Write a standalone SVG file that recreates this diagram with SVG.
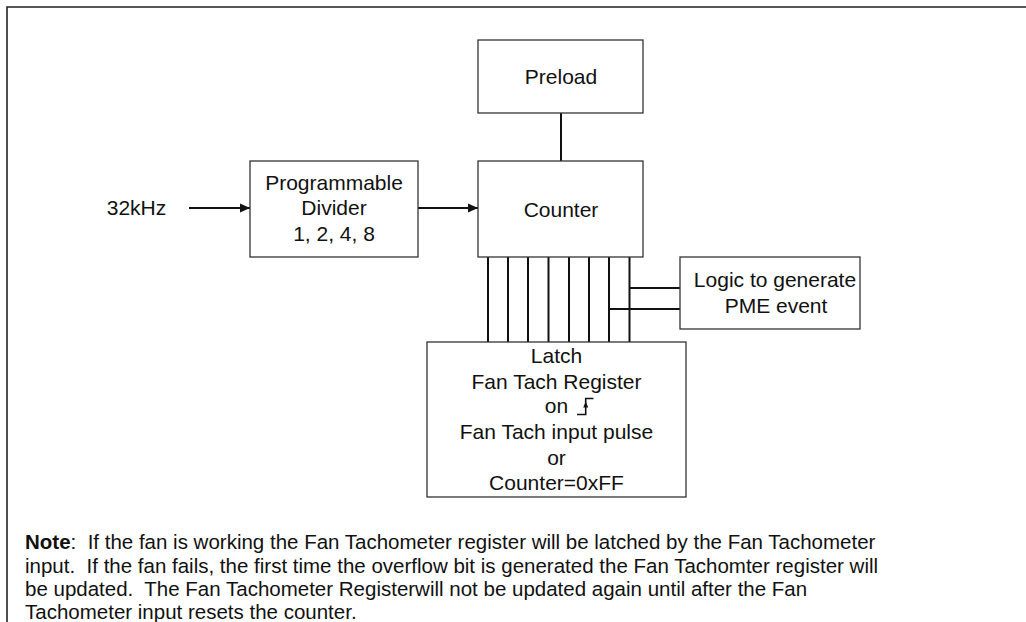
<svg xmlns="http://www.w3.org/2000/svg" width="1026" height="622" viewBox="0 0 1026 622">
<style>
  .box { fill: #ffffff; stroke: #333333; stroke-width: 1.3; }
  .t { font-family: "Liberation Sans", Arial, sans-serif; font-size: 21px; fill: #111111; text-anchor: middle; }
  .note { font-family: "Liberation Sans", Arial, sans-serif; font-size: 20.5px; fill: #111111; white-space: pre; }
  .wire { stroke: #111111; stroke-width: 2; fill: none; }
  .frame { stroke: #222222; stroke-width: 1.6; fill: none; }
</style>
<defs>
  <marker id="arr" markerWidth="12" markerHeight="12" refX="10" refY="6" orient="auto" markerUnits="userSpaceOnUse">
    <path d="M0,1.5 L10,6 L0,10.5 Z" fill="#111111"/>
  </marker>
</defs>
<rect width="1026" height="622" fill="#ffffff"/>
<path class="frame" d="M7,622 L7,7 L1026,7"/>

<g id="connectors">
  <line class="wire" x1="189" y1="208" x2="250" y2="208" marker-end="url(#arr)"/>
  <line class="wire" x1="418" y1="208" x2="478" y2="208" marker-end="url(#arr)"/>
  <line class="wire" x1="561" y1="113" x2="561" y2="161"/>
  <line class="wire" x1="488" y1="257" x2="488" y2="342"/>
  <line class="wire" x1="508" y1="257" x2="508" y2="342"/>
  <line class="wire" x1="528" y1="257" x2="528" y2="342"/>
  <line class="wire" x1="548.5" y1="257" x2="548.5" y2="342"/>
  <line class="wire" x1="569" y1="257" x2="569" y2="342"/>
  <line class="wire" x1="589" y1="257" x2="589" y2="342"/>
  <line class="wire" x1="609" y1="257" x2="609" y2="342"/>
  <line class="wire" x1="629.5" y1="257" x2="629.5" y2="342"/>
  <line class="wire" x1="629.5" y1="288" x2="680" y2="288"/>
  <line class="wire" x1="609" y1="309" x2="680" y2="309"/>
</g>

<g id="preload">
  <rect class="box" x="478" y="40" width="165" height="73"/>
  <text class="t" x="561" y="84">Preload</text>
</g>

<g id="input-label">
  <text class="t" x="136.5" y="215">32kHz</text>
</g>

<g id="divider">
  <rect class="box" x="250" y="161" width="168" height="96"/>
  <text class="t" x="334" y="190">Programmable</text>
  <text class="t" x="334" y="215">Divider</text>
  <text class="t" x="334" y="241">1, 2, 4, 8</text>
</g>

<g id="counter">
  <rect class="box" x="478" y="161" width="165" height="96"/>
  <text class="t" x="561" y="217">Counter</text>
</g>

<g id="logic">
  <rect class="box" x="680" y="257" width="180" height="72"/>
  <text class="t" x="775" y="286.5">Logic to generate</text>
  <text class="t" x="776" y="312.5">PME event</text>
</g>

<g id="latch">
  <rect class="box" x="427" y="342" width="259" height="155"/>
  <text class="t" x="556.5" y="362.5">Latch</text>
  <text class="t" x="556.5" y="389">Fan Tach Register</text>
  <text class="t" x="556.5" y="413">on</text>
  <path d="M577,414.5 L585.7,414.5 L585.7,398.5 L593.5,398.5" fill="none" stroke="#111111" stroke-width="1.6"/>
  <path d="M585.7,401.5 L583.2,407.5 L588.2,407.5 Z" fill="#111111"/>
  <text class="t" x="556.5" y="439">Fan Tach input pulse</text>
  <text class="t" x="556.5" y="465">or</text>
  <text class="t" x="556.5" y="490">Counter=0xFF</text>
</g>

<g id="note">
  <text class="note" x="25" y="549" xml:space="preserve"><tspan font-weight="bold">Note</tspan>:  If the fan is working the Fan Tachometer register will be latched by the Fan Tachometer</text>
  <text class="note" x="25" y="572.5" xml:space="preserve">input.  If the fan fails, the first time the overflow bit is generated the Fan Tachomter register will</text>
  <text class="note" x="25" y="596" xml:space="preserve">be updated.  The Fan Tachometer Registerwill not be updated again until after the Fan</text>
  <text class="note" x="25" y="619" xml:space="preserve">Tachometer input resets the counter.</text>
</g>
</svg>
